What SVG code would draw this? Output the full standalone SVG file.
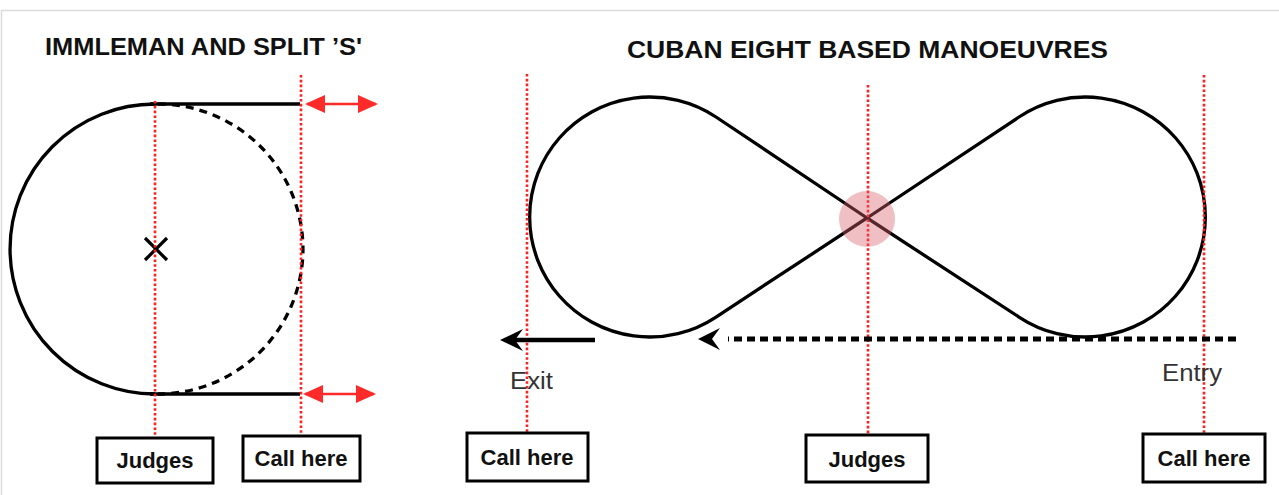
<svg xmlns="http://www.w3.org/2000/svg" width="1279" height="495" viewBox="0 0 1279 495">
<defs>
<style>
.title{font-family:"Liberation Sans",Arial,sans-serif;font-weight:bold;font-size:24px;fill:#111}
.lbl{font-family:"Liberation Sans",Arial,sans-serif;font-weight:bold;font-size:22px;fill:#111;text-anchor:middle}
.note{font-family:"Liberation Sans",Arial,sans-serif;font-size:23px;fill:#333}
.box{fill:#fff;stroke:#000;stroke-width:3}
.path{fill:none;stroke:#000;stroke-width:3.3}
.dash{fill:none;stroke:#000;stroke-width:3.3;stroke-dasharray:8 6}
.ref{stroke:#ff2020;stroke-width:2.6;stroke-dasharray:2.6 2.2;fill:none}
.red{stroke:#ff2a2a;stroke-width:2.5;fill:none}
.head{fill:#000}
</style>
<marker id="rh" viewBox="0 0 20 20" refX="18" refY="10" markerWidth="20" markerHeight="20" markerUnits="userSpaceOnUse" orient="auto-start-reverse">
<path d="M0,1 L20,10 L0,19 Z" fill="#ff2a2a"/>
</marker>
</defs>
<rect x="1.5" y="10.5" width="1300" height="500" fill="#fff" stroke="#dcdcdc" stroke-width="1.5"/>

<g id="titles">
<text class="title" x="45" y="55" textLength="317" lengthAdjust="spacingAndGlyphs">IMMLEMAN AND SPLIT ’S'</text>
<text class="title" x="627" y="58" textLength="481" lengthAdjust="spacingAndGlyphs">CUBAN EIGHT BASED MANOEUVRES</text>
</g>

<g id="immelman">
<path class="path" d="M155,104 A145,145 0 0 0 155,394"/>
<path class="path" d="M150,104 H300 M150,394 H300"/>
<path class="dash" d="M158,104 A145,145 0 0 1 158,394"/>
<path d="M145,238 L167,260 M167,238 L145,260" stroke="#000" stroke-width="3.2"/>
</g>

<g id="cuban-eight">
<path class="path" d="M867,218 L716,117 A120,120 0 1 0 716,317 Z"/>
<path class="path" d="M867,218 L1019,117 A120,120 0 1 1 1019,317 Z"/>
</g>

<g id="connectors">
<line class="ref" x1="155" y1="101" x2="155" y2="437"/>
<line class="ref" x1="301" y1="75" x2="301" y2="436"/>
<line class="ref" x1="527" y1="74" x2="527" y2="433"/>
<line class="ref" x1="868" y1="85" x2="868" y2="435"/>
<line class="ref" x1="1204" y1="75" x2="1204" y2="434"/>
<line class="red" x1="307" y1="104" x2="376" y2="104" marker-start="url(#rh)" marker-end="url(#rh)"/>
<line class="red" x1="305" y1="394" x2="374" y2="394" marker-start="url(#rh)" marker-end="url(#rh)"/>
<line x1="595" y1="340" x2="512" y2="340" stroke="#000" stroke-width="4.5"/>
<path class="head" d="M500,340 L523,329 L515,340 L523,351 Z"/>
<line x1="1236" y1="339" x2="728" y2="339" stroke="#000" stroke-width="5" stroke-dasharray="8 5"/>
<path class="head" d="M698,339 L720,328 L712,339 L720,350 Z"/>
</g>

<g id="crossing">
<circle cx="867" cy="219" r="28" fill="#d6606c" fill-opacity="0.4"/>
</g>

<g id="labels">
<text class="note" x="510" y="389" textLength="43" lengthAdjust="spacingAndGlyphs">Exit</text>
<text class="note" x="1162" y="381" textLength="60" lengthAdjust="spacingAndGlyphs">Entry</text>
</g>

<g id="judges-left">
<rect class="box" x="97" y="438" width="116" height="45"/>
<text class="lbl" x="155" y="468">Judges</text>
</g>
<g id="call-left">
<rect class="box" x="243" y="436" width="117" height="45"/>
<text class="lbl" x="301" y="466">Call here</text>
</g>
<g id="call-exit">
<rect class="box" x="467" y="433" width="121" height="48"/>
<text class="lbl" x="527" y="465">Call here</text>
</g>
<g id="judges-right">
<rect class="box" x="806" y="435" width="122" height="47"/>
<text class="lbl" x="867" y="467">Judges</text>
</g>
<g id="call-entry">
<rect class="box" x="1143" y="434" width="122" height="48"/>
<text class="lbl" x="1204" y="466">Call here</text>
</g>
</svg>
